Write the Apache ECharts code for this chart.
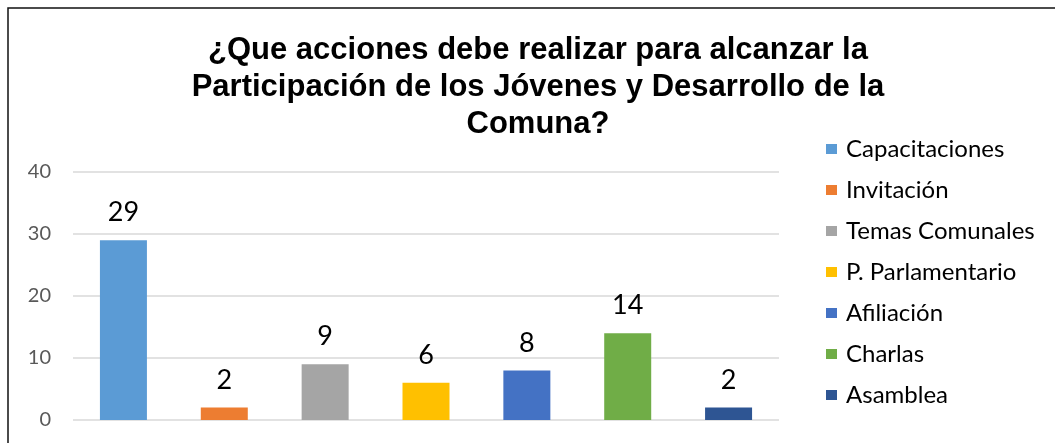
<!DOCTYPE html>
<html lang="es" style="height: 100%">
<head>
    <meta charset="UTF-8">
    <title>Acciones para la participación</title>
    <script src="https://cdn.jsdelivr.net/npm/echarts@6/dist/echarts.min.js"></script>
</head>
<body style="height: 100%; margin: 0">
<div id="main" style="width: 1055px; height: 443px"></div>
<script>
    var categorias = ['Capacitaciones', 'Invitación', 'Temas Comunales', 'P. Parlamentario', 'Afiliación', 'Charlas', 'Asamblea'];
    var valores = [29, 2, 9, 6, 8, 14, 2];
    var colores = ['#5B9BD5', '#ED7D31', '#A5A5A5', '#FFC000', '#4472C4', '#70AD47', '#2E5593'];
    var ticksY = [0, 10, 20, 30, 40];

    // one series per action so the legend lists each one
    var series = categorias.map(function (nombre, i) {
        var datos = categorias.map(function (c, j) { return j === i ? valores[i] : '-'; });
        return {
            name: nombre,
            type: 'bar',
            stack: 'total',
            barWidth: 47,
            data: datos,
            itemStyle: {color: colores[i]},
            label: {
                show: true,
                position: 'top',
                distance: 14,
                color: '#000',
                fontFamily: 'Lato',
                fontSize: 27
            }
        };
    });

    var myChart = echarts.init(document.getElementById('main'));
    myChart.setOption({
        animation: false,
        title: {
            text: '¿Que acciones debe realizar para alcanzar la\nParticipación de los Jóvenes y Desarrollo de la\nComuna?',
            left: 533,
            top: 27,
            textAlign: 'center',
            textStyle: {
                fontFamily: 'Liberation Sans',
                fontWeight: 'bold',
                fontSize: 31,
                lineHeight: 37,
                color: '#000'
            }
        },
        legend: {
            orient: 'vertical',
            left: 826,
            top: 137,
            padding: 0,
            icon: 'rect',
            itemWidth: 11,
            itemHeight: 10,
            itemGap: 17,
            textStyle: {
                fontFamily: 'Lato',
                fontSize: 24,
                lineHeight: 24,
                color: '#000',
                padding: [0, 0, 0, 4]
            },
            data: categorias
        },
        grid: {left: 73, right: 276, top: 172, bottom: 23},
        xAxis: {
            type: 'category',
            data: categorias,
            axisLine: {show: false},
            axisTick: {show: false},
            axisLabel: {show: false}
        },
        yAxis: {
            type: 'value',
            min: ticksY[0],
            max: ticksY[ticksY.length - 1],
            interval: 10,
            axisLine: {show: false},
            axisTick: {show: false},
            axisLabel: {color: '#595959', fontFamily: 'Lato', fontSize: 20, margin: 22},
            splitLine: {lineStyle: {color: '#D9D9D9', width: 1.5}}
        },
        graphic: [{
            type: 'rect',
            shape: {x: 8, y: 8, width: 1200, height: 600},
            style: {fill: null, stroke: '#111', lineWidth: 1.5},
            z: 100
        }],
        series: series
    });
</script>
</body>
</html>
